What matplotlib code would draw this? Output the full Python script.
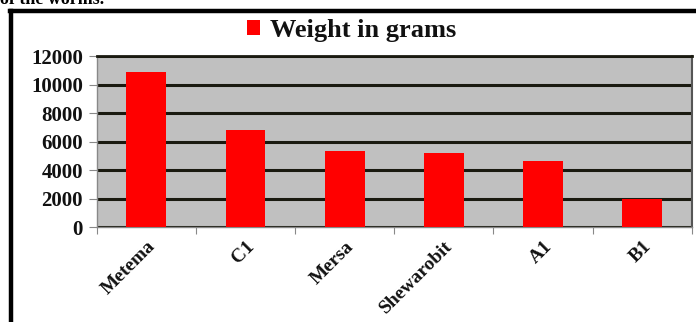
import matplotlib.pyplot as plt
from matplotlib.lines import Line2D

# values
sites = ["Metema", "C1", "Mersa", "Shewarobit", "A1", "B1"]
weights = [10900, 6800, 5300, 5200, 4650, 2000]
y_ticks = [0, 2000, 4000, 6000, 8000, 10000, 12000]
series_label = "Weight in grams"

plt.rcParams['font.family'] = ['Liberation Serif', 'DejaVu Serif']

fig = plt.figure(figsize=(6.96, 3.22), dpi=100)
ax = fig.add_axes([0.139, 0.295, 0.855, 0.531])

x = list(range(len(sites)))
ax.bar(x, weights, width=0.4, color="#ff0000", label=series_label, zorder=3)

ax.set_facecolor("#c0c0c0")
ax.set_xlim(-0.5, len(sites) - 0.5)
ax.set_ylim(0, 12000)
ax.set_yticks(y_ticks)
ax.set_yticklabels([str(v) for v in y_ticks], fontsize=15, fontweight='bold',
                   color="#111111")
ax.yaxis.grid(True, color="#1a1a10", linewidth=2.2, zorder=1)
ax.set_axisbelow(True)

# category ticks sit between the bars, labels under the bars
ax.set_xticks([i - 0.5 for i in range(len(sites) + 1)])
ax.set_xticklabels([])
ax.set_xticks(x, minor=True)
ax.set_xticklabels(sites, minor=True, rotation=45, ha='right',
                   rotation_mode='anchor', fontsize=14, fontweight='bold',
                   color="#111111")
ax.tick_params(axis='x', which='minor', length=0, pad=8)
ax.tick_params(axis='x', which='major', length=5, color="#888888")
ax.tick_params(axis='y', length=6, color="#888888", pad=4)

for side in ['left', 'bottom']:
    ax.spines[side].set_color("#888888")
    ax.spines[side].set_linewidth(1)
ax.spines['top'].set_color("#1a1a10")
ax.spines['top'].set_linewidth(2)
ax.spines['right'].set_color("#555555")
ax.spines['right'].set_linewidth(1.5)

fig.legend(loc='center', bbox_to_anchor=(0.505, 0.905), frameon=False,
           prop={'size': 19, 'weight': 'bold'}, handlelength=0.5,
           handleheight=0.5, handletextpad=0.35, labelcolor="#111111")

# outer frame of the figure in the source document
fig.add_artist(Line2D([0.015, 1.0], [0.967, 0.967], color='black', linewidth=3.2,
                      transform=fig.transFigure))
fig.add_artist(Line2D([0.016, 0.016], [0.0, 0.967], color='black', linewidth=3.2,
                      transform=fig.transFigure))

fig.text(0.0, 1.0, "of the worms.", fontsize=13, fontweight='bold', va='center', ha='left')

fig.savefig("out.png", dpi=100)
